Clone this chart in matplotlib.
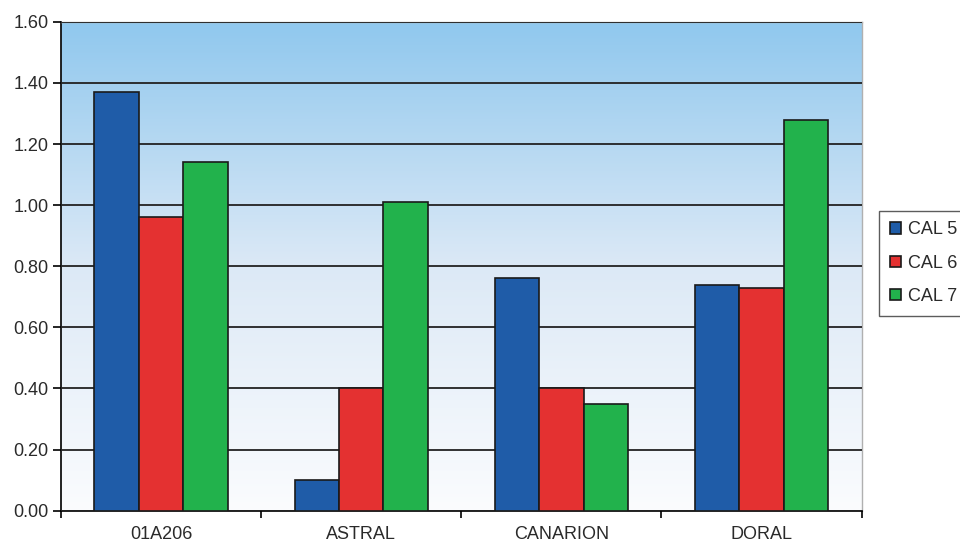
import numpy as np
import matplotlib
matplotlib.use("Agg")
import matplotlib.pyplot as plt
from matplotlib.colors import LinearSegmentedColormap

plt.rcParams['font.family'] = ['Liberation Sans', 'DejaVu Sans']

varieties = ["01A206", "ASTRAL", "CANARION", "DORAL"]
cal5 = [1.37, 0.10, 0.76, 0.74]
cal6 = [0.96, 0.40, 0.40, 0.73]
cal7 = [1.14, 1.01, 0.35, 1.28]
series_names = ["CAL 5", "CAL 6", "CAL 7"]
colors = ["#1f5ca8", "#e43131", "#22b24c"]

fig = plt.figure(figsize=(9.6, 5.45), dpi=100)
ax = fig.add_axes([0.0635, 0.063, 0.834, 0.897])

# gradient background, light blue at top to near white at bottom
grad = LinearSegmentedColormap.from_list("bg", ["#fbfcfe", "#dce9f6", "#90c8ee"])
ax.imshow(np.linspace(0, 1, 256).reshape(-1, 1), cmap=grad, origin="lower",
          aspect="auto", extent=[-0.5, 3.5, 0, 1.6], zorder=0)

x = np.arange(len(varieties))
w = 0.222
for i, (vals, name, c) in enumerate(zip([cal5, cal6, cal7], series_names, colors)):
    ax.bar(x + (i - 1) * w, vals, w, color=c, edgecolor="#1a1a1a", linewidth=1.2,
           label=name, zorder=3)

ax.set_xlim(-0.5, 3.5)
ax.set_ylim(0, 1.6)
ax.set_yticks(np.arange(0, 1.61, 0.2))
ax.set_yticklabels([f"{v:.2f}" for v in np.arange(0, 1.61, 0.2)])
ax.yaxis.grid(True, color="#222222", linewidth=1.3, zorder=1)
ax.set_axisbelow(False)

# category labels in the middle, tick marks on the boundaries
ax.set_xticks(x)
ax.set_xticklabels(varieties)
ax.tick_params(axis="x", length=0, pad=11)
ax.set_xticks(np.arange(-0.5, 3.6, 1), minor=True)
ax.tick_params(axis="x", which="minor", length=5, width=1.2, direction="out")
ax.tick_params(axis="y", length=6, width=1.2, direction="out", pad=3)
ax.tick_params(labelsize=13, labelcolor="#2a2a2a")

for s in ["left", "bottom"]:
    ax.spines[s].set_linewidth(1.3)
    ax.spines[s].set_color("#111111")
for s in ["top", "right"]:
    ax.spines[s].set_color("#b0b0b0")
    ax.spines[s].set_linewidth(1.0)

leg = fig.legend(loc="center left", bbox_to_anchor=(0.916, 0.517), frameon=True,
                 fancybox=False, edgecolor="#333333", fontsize=13,
                 handlelength=0.6, handleheight=0.6, handletextpad=0.4,
                 labelspacing=0.9, borderpad=0.6, borderaxespad=0)
leg.get_frame().set_linewidth(1.0)
for t in leg.get_texts():
    t.set_color("#2a2a2a")

fig.savefig("out.png", dpi=100)
